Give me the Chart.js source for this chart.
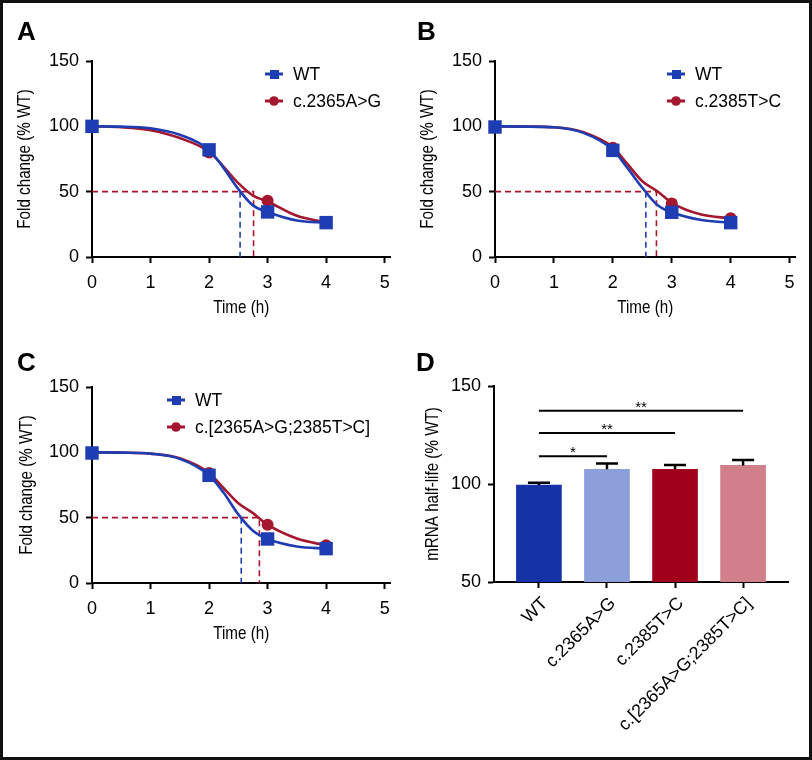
<!DOCTYPE html>
<html lang="en">
<head>
<meta charset="UTF-8">
<title>mRNA decay curves</title>
<script src="https://cdn.jsdelivr.net/npm/chart.js"></script>
<style>
  body { margin: 0; background: #fff; }
  #page { position: relative; width: 812px; height: 760px; overflow: hidden; }
  #page canvas { position: absolute; }
  .frame { position: absolute; left: 0; top: 0; width: 812px; height: 760px; box-sizing: border-box;
           border: 3px solid #111; pointer-events: none; }
  .tag { position: absolute; font: bold 26px 'Liberation Sans', Arial, sans-serif; line-height: 26px; color: #000; }
</style>
</head>
<body>
<div id="page">
  <canvas id="panelA" width="400" height="330" style="left:0;top:0"></canvas>
  <canvas id="panelB" width="405" height="330" style="left:400px;top:0"></canvas>
  <canvas id="panelC" width="400" height="330" style="left:0;top:326px"></canvas>
  <canvas id="panelD" width="405" height="430" style="left:400px;top:326px"></canvas>
  <div class="tag" style="left:17px;top:18px">A</div>
  <div class="tag" style="left:417px;top:18px">B</div>
  <div class="tag" style="left:17px;top:349px">C</div>
  <div class="tag" style="left:416px;top:349px">D</div>
  <div class="frame"></div>
</div>
<script>
// measured time points (h)
const timeH = [0, 2, 3, 4];
const timeTicks = [0, 1, 2, 3, 4, 5];
const fitX = [0, 0.5, 1, 1.5, 2, 2.25, 2.5, 2.75, 3, 3.5, 4];

// panel A - WT vs c.2365A>G
const wtA = [100, 82, 34.5, 26.3];
const mutA = [100, 80, 43, 26.5];
const wtFitA = [100, 99.8, 98.5, 93.5, 82, 68, 52, 39.5, 34.5, 28, 26.3];
const mutFitA = [100, 99.3, 97, 91, 80.5, 69, 56.5, 47, 42.5, 31.5, 26.5];
const halfA = [2.53, 2.76];

// panel B - WT vs c.2385T>C
const wtB = [99.5, 81.6, 34.2, 26.3];
const mutB = [99.5, 83.7, 41, 29.6];
const wtFitB = [100, 99.8, 99.3, 95, 82, 68, 53, 40, 34.2, 28.3, 26.3];
const mutFitB = [100, 99.8, 99.3, 95.5, 84, 71, 58, 50.5, 41.5, 32.5, 29.6];
const halfB = [2.56, 2.74];

// panel C - WT vs c.[2365A>G;2385T>C]
const wtC = [99.5, 82.4, 33.7, 26.3];
const mutC = [99.5, 84.2, 44.6, 28.8];
const wtFitC = [100, 99.8, 99, 95, 82.4, 69, 52.5, 40, 33.7, 28, 26.3];
const mutFitC = [100, 99.8, 99, 95.5, 84.2, 72.5, 61, 53.5, 44.6, 34, 28.8];
const halfC = [2.55, 2.86];

// panel D - half-life bars
const variants = ['WT', 'c.2365A>G', 'c.2385T>C', 'c.[2365A>G;2385T>C]'];
const halfLife = [99.5, 107.5, 107.5, 109.5];
const halfLifeTop = [100.7, 110.5, 109.7, 112.2];   // mean + error
const sigEnd = [1, 2, 3];
const sigLevel = [114.1, 126, 137.4];
const sigMark = ['*', '**', '**'];

const BLUE = '#1f3db2';
const RED = '#a5172e';
const barColors = ['#1533a6', '#8c9fdb', '#a0001b', '#d07f8b'];

const tickFont = { family: "'Liberation Sans', Arial, sans-serif", size: 18 };
const titleCss = "19px 'Liberation Sans', Arial, sans-serif";

const pts = (xs, ys) => xs.map((x, i) => ({ x: x, y: ys[i] }));

function axisGrid() {
  return { display: true, drawOnChartArea: false, drawTicks: true, tickLength: 6, tickColor: '#000', tickWidth: 2, offset: false };
}

// axis titles in a condensed look (text squeezed along its own direction)
function titlePlugin(xTitle, yTitle, xTitleY, yTitleX) {
  return {
    id: 'axisTitles',
    afterDraw(chart) {
      const ctx = chart.ctx, a = chart.chartArea;
      ctx.save();
      ctx.fillStyle = '#000';
      ctx.font = titleCss;
      ctx.textAlign = 'center';
      ctx.textBaseline = 'middle';
      if (xTitle) {
        ctx.save();
        ctx.translate((a.left + a.right) / 2, xTitleY);
        ctx.scale(0.8, 1);
        ctx.fillText(xTitle, 0, 0);
        ctx.restore();
      }
      ctx.translate(yTitleX, (a.top + a.bottom) / 2);
      ctx.rotate(-Math.PI / 2);
      ctx.scale(0.8, 1);
      ctx.fillText(yTitle, 0, 0);
      ctx.restore();
    }
  };
}

// legend drawn inside the plot: short line + marker + label
function legendPlugin(dx, dy) {
  return {
    id: 'miniLegend',
    afterDraw(chart) {
      const ctx = chart.ctx, a = chart.chartArea;
      [0, 1].forEach(i => {
        const ds = chart.data.datasets[i];
        const x = a.left + dx, y = a.top + dy + i * 27;
        ctx.save();
        ctx.strokeStyle = ds.backgroundColor;
        ctx.fillStyle = ds.backgroundColor;
        ctx.lineWidth = 3;
        ctx.beginPath(); ctx.moveTo(x, y); ctx.lineTo(x + 18, y); ctx.stroke();
        if (ds.pointStyle === 'rect') {
          ctx.fillRect(x + 5, y - 4, 9, 9);
        } else {
          ctx.beginPath(); ctx.arc(x + 9, y, 4.8, 0, Math.PI * 2); ctx.fill();
        }
        ctx.fillStyle = '#000';
        ctx.font = "17.5px 'Liberation Sans', Arial, sans-serif";
        ctx.textBaseline = 'middle';
        ctx.fillText(ds.label, x + 28, y + 1);
        ctx.restore();
      });
    }
  };
}

function curvePanel(id, mutLabel, wt, mut, wtFit, mutFit, half, leftPad, legendX, yTitleX) {
  const dashed = { type: 'line', borderWidth: 1.6, borderDash: [6, 4], pointRadius: 0, tension: 0, fill: false };
  new Chart(document.getElementById(id), {
    type: 'scatter',
    data: {
      datasets: [
        { label: 'WT', data: pts(timeH, wt), pointStyle: 'rect', pointRadius: 9.5,
          backgroundColor: BLUE, borderColor: BLUE, borderWidth: 0, clip: false },
        { label: mutLabel, data: pts(timeH, mut), pointStyle: 'circle', pointRadius: 6,
          backgroundColor: RED, borderColor: RED, borderWidth: 0, clip: false },
        { type: 'line', data: pts(fitX, wtFit), borderColor: BLUE, borderWidth: 2.6, pointRadius: 0,
          cubicInterpolationMode: 'monotone', fill: false, clip: false },
        { type: 'line', data: pts(fitX, mutFit), borderColor: RED, borderWidth: 2.6, pointRadius: 0,
          cubicInterpolationMode: 'monotone', fill: false, clip: false },
        Object.assign({ data: [{ x: 0, y: 50 }, { x: half[1], y: 50 }, { x: half[1], y: 0 }], borderColor: RED }, dashed),
        Object.assign({ data: [{ x: half[0], y: 50 }, { x: half[0], y: 0 }], borderColor: BLUE }, dashed)
      ]
    },
    options: {
      responsive: false,
      animation: false,
      layout: { padding: { left: leftPad, top: 61, right: 7, bottom: 0 } },
      plugins: { legend: { display: false }, tooltip: { enabled: false } },
      scales: {
        x: {
          type: 'linear', min: 0, max: 5.1, offset: false,
          afterBuildTicks: s => { s.ticks = timeTicks.map(v => ({ value: v })); },
          afterFit: s => { s.height = 73; },
          ticks: { font: tickFont, color: '#000', padding: 9 },
          grid: axisGrid(),
          border: { color: '#000', width: 2 }
        },
        y: {
          min: 0, max: 150,
          afterFit: s => { s.width = (id === 'panelB' ? 95 : 92) - leftPad; },
          ticks: { stepSize: 50, font: tickFont, color: '#000', padding: 7 },
          grid: axisGrid(),
          border: { color: '#000', width: 2 }
        }
      }
    },
    plugins: [legendPlugin(legendX, 13), titlePlugin('Time (h)', 'Fold change (% WT)', 308, yTitleX)]
  });
}

curvePanel('panelA', 'c.2365A>G', wtA, mutA, wtFitA, mutFitA, halfA, 10, 173, 25);
curvePanel('panelB', 'c.2385T>C', wtB, mutB, wtFitB, mutFitB, halfB, 13, 172, 28);
curvePanel('panelC', 'c.[2365A>G;2385T>C]', wtC, mutC, wtFitC, mutFitC, halfC, 12, 75, 27);

// error whiskers and significance stars for panel D
const barExtras = {
  id: 'barExtras',
  afterDatasetsDraw(chart) {
    const ctx = chart.ctx, xs = chart.scales.x, ys = chart.scales.y;
    ctx.save();
    ctx.strokeStyle = '#000';
    ctx.lineWidth = 2.5;
    halfLife.forEach((v, i) => {
      const px = xs.getPixelForValue(i);
      const top = ys.getPixelForValue(v), err = ys.getPixelForValue(halfLifeTop[i]);
      ctx.beginPath();
      ctx.moveTo(px, top); ctx.lineTo(px, err);
      ctx.moveTo(px - 11, err); ctx.lineTo(px + 11, err);
      ctx.stroke();
    });
    ctx.fillStyle = '#000';
    ctx.font = "15px 'Liberation Sans', Arial, sans-serif";
    ctx.textAlign = 'center';
    ctx.textBaseline = 'alphabetic';
    sigEnd.forEach((e, i) => {
      ctx.fillText(sigMark[i], xs.getPixelForValue(e / 2), ys.getPixelForValue(sigLevel[i]) + 1);
    });
    ctx.restore();
  }
};

new Chart(document.getElementById('panelD'), {
  type: 'bar',
  data: {
    datasets: sigEnd.map((e, i) => ({
      type: 'line', data: [{ x: 0, y: sigLevel[i] }, { x: e, y: sigLevel[i] }],
      borderColor: '#000', borderWidth: 2, pointRadius: 0, fill: false
    })).concat([{
      type: 'bar', data: pts([0, 1, 2, 3], halfLife),
      backgroundColor: barColors, borderWidth: 0, barThickness: 45
    }])
  },
  options: {
    responsive: false,
    animation: false,
    layout: { padding: { left: 18, top: 60, right: 17, bottom: 0 } },
    plugins: { legend: { display: false }, tooltip: { enabled: false } },
    scales: {
      x: {
        type: 'linear', min: -0.66, max: 3.66, offset: false,
        afterBuildTicks: s => { s.ticks = [0, 1, 2, 3].map(v => ({ value: v })); },
        afterFit: s => { s.height = 174; },
        ticks: { font: tickFont, color: '#000', padding: 5, labelOffset: 6, minRotation: 45, maxRotation: 45,
                 callback: v => variants[v] },
        grid: axisGrid(),
        border: { color: '#000', width: 2 }
      },
      y: {
        min: 50, max: 150,
        afterFit: s => { s.width = 76; },
        ticks: { stepSize: 50, font: tickFont, color: '#000', padding: 7 },
        grid: axisGrid(),
        border: { color: '#000', width: 2 }
      }
    }
  },
  plugins: [barExtras, titlePlugin(null, 'mRNA half-life (% WT)', 0, 33)]
});
</script>
</body>
</html>
